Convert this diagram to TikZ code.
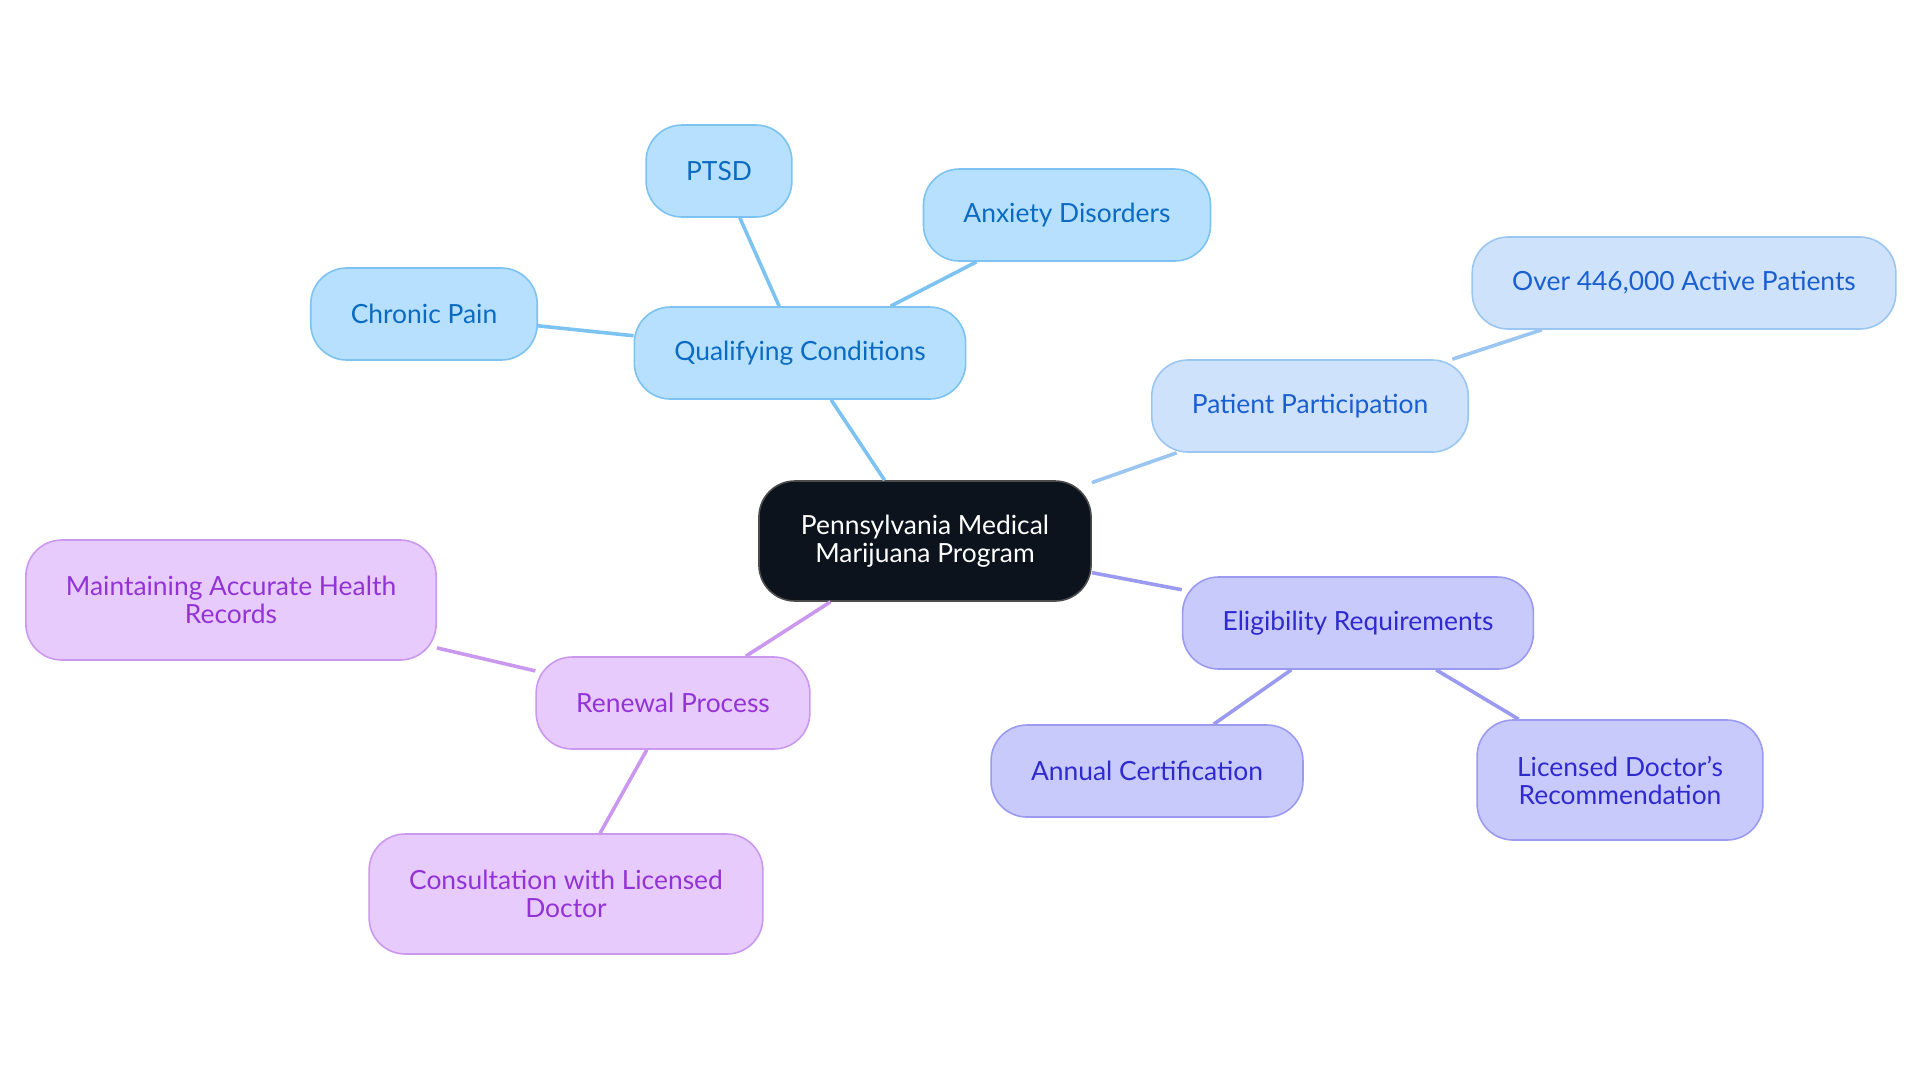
\documentclass[tikz,border=0pt]{standalone}
\usepackage{fontspec}
\setmainfont{Lato}
\usetikzlibrary{positioning}
\definecolor{qualfill}{HTML}{B6E0FE}
\definecolor{qualdraw}{HTML}{7CC3F2}
\definecolor{qualtext}{HTML}{0B6BC2}
\definecolor{partfill}{HTML}{CEE3FB}
\definecolor{partdraw}{HTML}{9CC6F2}
\definecolor{parttext}{HTML}{1A5FD0}
\definecolor{eligfill}{HTML}{C9CAFC}
\definecolor{eligdraw}{HTML}{9A9BF0}
\definecolor{eligtext}{HTML}{2E2ACF}
\definecolor{renfill}{HTML}{E7CBFD}
\definecolor{rendraw}{HTML}{CB98F0}
\definecolor{rentext}{HTML}{9333D6}
\definecolor{rootfill}{HTML}{0C131C}
\tikzset{
	topic/.style={
		rectangle,
        rounded corners=18pt,
        draw,
		line width=0.8pt,
		align=center,
		inner xsep=20pt,
		minimum height=46pt,
		font=\fontsize{13.2}{14}\selectfont,
	},
	qual/.style={topic, fill=qualfill, draw=qualdraw, text=qualtext},
	part/.style={topic, fill=partfill, draw=partdraw, text=parttext},
	elig/.style={topic, fill=eligfill, draw=eligdraw, text=eligtext},
	renew/.style={topic, fill=renfill, draw=rendraw, text=rentext},
	root/.style={topic, fill=rootfill, draw=black!70, text=white, minimum height=60pt, inner xsep=21pt},
    link/.style={
        line width=1.8pt,
    }
}
\begin{document}
\begin{tikzpicture}[x=0.5pt,y=-0.5pt]
\useasboundingbox (0,0) rectangle (1920,1083);

\node[root] (root) at (925,541) {Pennsylvania Medical\\Marijuana Program};

\node[qual] (qual) at (800,353) {Qualifying Conditions};
\node[qual] (ptsd) at (719,171) {PTSD};
\node[qual] (anx) at (1067,215) {Anxiety Disorders};
\node[qual] (pain) at (424,314) {Chronic Pain};

\node[part] (part) at (1310,406) {Patient Participation};
\node[part] (active) at (1684,283) {Over 446,000 Active Patients};

\node[elig] (elig) at (1358,623) {Eligibility Requirements};
\node[elig] (annual) at (1147,771) {Annual Certification};
\node[elig, minimum height=60pt] (recom) at (1620,780) {Licensed Doctor's\\Recommendation};

\node[renew] (renew) at (673,703) {Renewal Process};
\node[renew, minimum height=60pt] (records) at (231,600) {Maintaining Accurate Health\\Records};
\node[renew, minimum height=60pt] (consult) at (566,894) {Consultation with Licensed\\Doctor};

\draw[link, qualdraw] (root) -- (qual);
\draw[link, qualdraw] (qual) -- (ptsd);
\draw[link, qualdraw] (qual) -- (anx);
\draw[link, qualdraw] (qual) -- (pain);

\draw[link, partdraw] (root) -- (part);
\draw[link, partdraw] (part) -- (active);

\draw[link, eligdraw] (root) -- (elig);
\draw[link, eligdraw] (elig) -- (annual);
\draw[link, eligdraw] (elig) -- (recom);

\draw[link, rendraw] (root) -- (renew);
\draw[link, rendraw] (renew) -- (records);
\draw[link, rendraw] (renew) -- (consult);

\end{tikzpicture}
\end{document}
